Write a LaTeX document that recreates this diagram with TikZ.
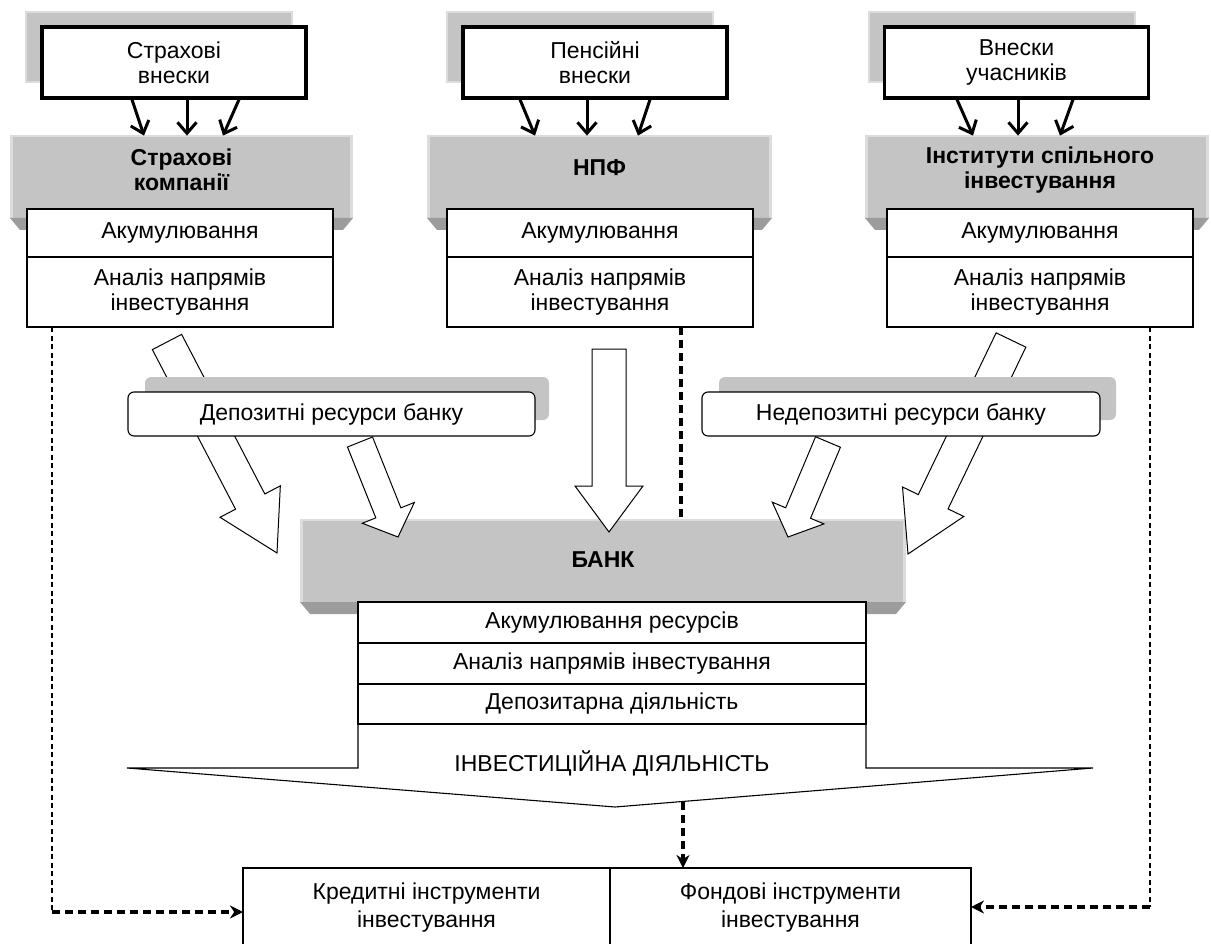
\documentclass[tikz,border=0pt]{standalone}
\usepackage{fontspec}
\setmainfont{Liberation Sans}
\usetikzlibrary{positioning}
\usetikzlibrary{calc}
\usetikzlibrary{arrows.meta}

\definecolor{panelgray}{RGB}{196,196,196}
\definecolor{bevelgray}{RGB}{156,156,156}
\definecolor{edgegray}{RGB}{220,220,220}

\tikzset{
  srcbox/.style={draw, line width=3.2pt, fill=white, minimum width=264pt, minimum height=71pt, align=center, inner sep=0pt},
  srcshade/.style={fill=panelgray, draw=edgegray, line width=2pt, minimum width=266pt, minimum height=70pt},
  panel/.style={fill=panelgray, minimum height=83pt, inner sep=0pt, outer sep=0pt},
  paneltext/.style={font=\fontsize{23}{25}\selectfont\bfseries, align=center},
  row/.style={draw, fill=white, line width=1.1pt, align=center, inner sep=0pt, outer sep=0pt},
  resbox/.style={draw, fill=white, rounded corners=6pt, line width=1.1pt, minimum height=44pt},
  resshade/.style={fill=panelgray, rounded corners=6pt, minimum height=43pt},
  fat/.style={draw, fill=white, line width=1pt},
  feed/.style={line width=3pt, -{Straight Barb[length=11pt,width=19pt]}},
  link/.style={line width=3.2pt, dash pattern=on 8pt off 5pt},
  thinlink/.style={line width=2pt, dash pattern=on 5pt off 3.5pt},
  tip/.style={-{Stealth[length=13pt,width=13pt]}}
}

\newcommand{\bevel}[1]{%
  \fill[edgegray] (#1.north west) rectangle ([xshift=3pt]#1.south west);
  \fill[edgegray] ([xshift=-3pt]#1.north east) rectangle (#1.south east);
  \fill[edgegray] (#1.north west) rectangle ([yshift=-2pt]#1.north east);
  \fill[bevelgray] (#1.south west) -- (#1.south east) -- ([xshift=-10pt,yshift=-12pt]#1.south east)
    -- ([xshift=10pt,yshift=-12pt]#1.south west) -- cycle;
}
\newcommand{\fatarrow}[5]{%
  \coordinate (neck) at ($(#2)!#5!(#1)$);
  \draw[fat] ($(#1)!#3!90:(#2)$) -- ($(neck)!#3!90:(#2)$) -- ($(neck)!#4!90:(#2)$) -- (#2)
    -- ($(neck)!#4!-90:(#2)$) -- ($(neck)!#3!-90:(#2)$) -- ($(#1)!#3!-90:(#2)$) -- cycle;
}

\begin{document}
\begin{tikzpicture}[x=1pt, y=-1pt, font=\fontsize{23}{25}\selectfont]
\useasboundingbox (0,0) rectangle (1211,944);

\node[srcshade] (s1shade) at (159,47.5) {};
\node[srcbox] (s1) at (174,62.5) {Страхові\\внески};
\node[srcshade] (s2shade) at (580,47.5) {};
\node[srcbox] (s2) at (595,62.5) {Пенсійні\\внески};
\node[srcshade] (s3shade) at (1001.5,47.5) {};
\node[srcbox] (s3) at (1016.5,62.5) {Внески\\учасників};

\node[panel, minimum width=343pt] (insur) at (181.5,176.5) {};
\bevel{insur}
\node[paneltext] (insurlbl) at (181.5,170) {Страхові\\компанії};
\node[panel, minimum width=345pt] (npf) at (599.5,176.5) {};
\bevel{npf}
\node[paneltext] (npflbl) at (599.5,168) {НПФ};
\node[panel, minimum width=344pt] (ici) at (1037,176.5) {};
\bevel{ici}
\node[paneltext] (icilbl) at (1040,170) {Інститути спільного\\інвестування};

\foreach \a/\b in {-42/-30, 13/13, 65/49}
  \draw[feed] ([xshift=\a pt]s1.south) -- ([xshift=\b pt,yshift=-36pt]s1.south);
\foreach \a/\b in {-75/-60, -8/-8, 55/43}
  \draw[feed] ([xshift=\a pt]s2.south) -- ([xshift=\b pt,yshift=-36pt]s2.south);
\foreach \a/\b in {-59.5/-43.5, 1.5/1.5, 56.5/43.5}
  \draw[feed] ([xshift=\a pt]s3.south) -- ([xshift=\b pt,yshift=-36pt]s3.south);

\node[row, minimum width=306pt, minimum height=48pt] (l1) at (180,233) {Акумулювання};
\node[row, minimum width=306pt, minimum height=70pt, below=0pt of l1] (l2) {Аналіз напрямів\\інвестування};
\node[row, minimum width=306pt, minimum height=48pt] (m1) at (600,233) {Акумулювання};
\node[row, minimum width=306pt, minimum height=70pt, below=0pt of m1] (m2) {Аналіз напрямів\\інвестування};
\node[row, minimum width=306pt, minimum height=48pt] (r1) at (1040,233) {Акумулювання};
\node[row, minimum width=306pt, minimum height=70pt, below=0pt of r1] (r2) {Аналіз напрямів\\інвестування};

\node[panel, minimum width=606pt] (bank) at (603,560.5) {};
\bevel{bank}
\node[paneltext] (banklbl) at (603,560) {БАНК};

\draw[link] ([xshift=81pt]m2.south) -- ([xshift=78pt]bank.north);

\coordinate (insurout) at (167,342);
\coordinate (insurin) at (277,553);
\coordinate (depout) at (360,442);
\coordinate (depin) at (398,537);
\coordinate (npfout) at (609,349);
\coordinate (npfin) at (609,532);
\coordinate (nondepout) at (828,442);
\coordinate (nondepin) at (788,537);
\coordinate (iciout) at (1011,340);
\coordinate (iciin) at (908,554);
\fatarrow{insurout}{insurin}{16.5pt}{34pt}{58pt}
\fatarrow{depout}{depin}{13.5pt}{28pt}{26pt}
\fatarrow{npfout}{npfin}{17pt}{34pt}{46pt}
\fatarrow{nondepout}{nondepin}{13.5pt}{28pt}{26pt}
\fatarrow{iciout}{iciin}{16.5pt}{34pt}{58pt}

\node[resshade, minimum width=404pt] (depshade) at (347,398.5) {};
\node[resbox, minimum width=407pt] (dep) at (331.5,414) {Депозитні ресурси банку};
\node[resshade, minimum width=397pt] (nondepshade) at (917.5,398.5) {};
\node[resbox, minimum width=398pt] (nondep) at (901,414) {Недепозитні ресурси банку};

\node[row, minimum width=508pt, minimum height=41pt] (b1) at (612,622.5) {Акумулювання ресурсів};
\node[row, minimum width=508pt, minimum height=41pt, below=0pt of b1] (b2) {Аналіз напрямів інвестування};
\node[row, minimum width=508pt, minimum height=40pt, below=0pt of b2] (b3) {Депозитарна діяльність};

\draw[line width=1.1pt] (b3.south west) -- ++(0,44) coordinate (chevl) -- (127,768) -- (615,807) coordinate (chevtip)
  -- (1093,768) -- (b3.south east |- chevl) -- (b3.south east);
\node (invest) at (612,763) {ІНВЕСТИЦІЙНА ДІЯЛЬНІСТЬ};

\node[row, minimum width=367pt, minimum height=80pt, font=\fontsize{23}{28}\selectfont] (kred) at (426.5,908) {Кредитні інструменти\\інвестування};
\node[row, minimum width=361pt, minimum height=80pt, font=\fontsize{23}{28}\selectfont, right=0pt of kred] (fond) {Фондові інструменти\\інвестування};

\coordinate (investout) at (683,801.5);
\draw[link, tip] (investout) -- (investout |- fond.north);

\draw[thinlink] ([xshift=-128pt]l2.south) -- ++(0,585) coordinate (lturn);
\draw[link, tip] (lturn) -- (lturn -| kred.west);
\draw[thinlink] ([xshift=110pt]r2.south) -- ++(0,580) coordinate (rturn);
\draw[link, tip] (rturn) -- (rturn -| fond.east);
\end{tikzpicture}
\end{document}
